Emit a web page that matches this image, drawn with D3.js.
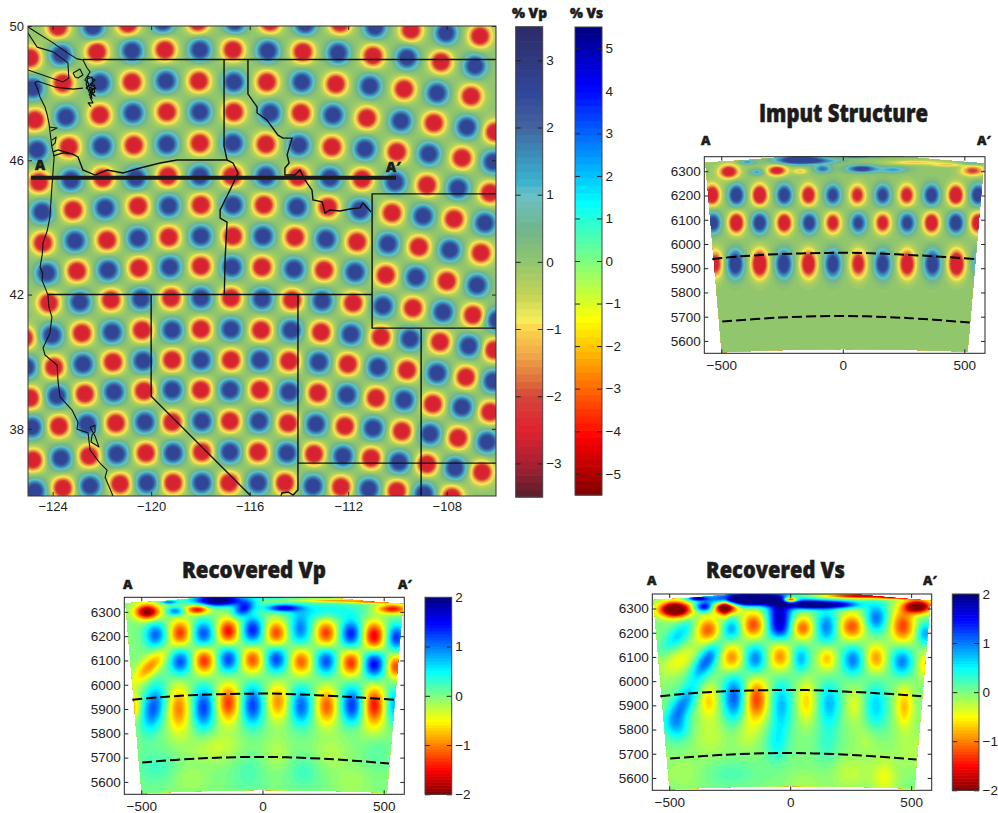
<!DOCTYPE html>
<html><head><meta charset="utf-8"><title>Checkerboard resolution test</title>
<script src="https://cdn.jsdelivr.net/npm/d3@7/dist/d3.min.js"></script>
<style>html,body{margin:0;padding:0;background:#fff}svg{display:block}</style></head><body>
<script>
// ---------- tick labels ----------
const mapLonTicks=[-124,-120,-116,-112,-108];
const mapLatTicks=[50,46,42,38];
const sectionXTicks=[-500,0,500];
const sectionYTicks=[6300,6200,6100,6000,5900,5800,5700,5600];
const vpBarTicks=[3,2,1,0,-1,-2,-3];
const vsBarTicks=[5,4,3,2,1,0,-1,-2,-3,-4,-5];
const recoveredBarTicks=[2,1,0,-1,-2];
// ---------- colour maps ----------
const mutedValues=[3.5,3,2.5,2,1.6,1.2,1,0.5,0,-0.5,-0.85,-1,-1.4,-1.8,-2,-2.5,-3,-3.5];
const mutedColors=["#2e2a6a","#2f3a80","#31479a","#44659f","#3b8fb8","#3ab2cf","#6cc0c6","#6fb58c","#92c66d","#c5d455","#f6ee58","#fbd34d","#f0a546","#dc6a3b","#d3453a","#e1222f","#a82033","#56202a"];
const jetValues=[1,0.75,0.71,0.25,0,-0.25,-0.75,-1];
const jetColors=["#00007f","#0000ff","#0010ff","#00ffff","#7fff7f","#ffff00","#ff0000","#7f0000"];
// ---------- map checkerboard: one row per parallel of anomalies ----------
const rowFirstSign=[-1,-1,1,-1,1,-1,1,-1,1,-1,-1,1,-1,1,-1,1];
const spotLon=[
[-123.78,-122.36,-120.94,-119.52,-118.10,-116.60,-115.17,-113.75,-112.33,-110.91,-109.45,-108.03,-106.65],
[-124.92,-123.66,-122.20,-120.78,-119.44,-118.02,-116.68,-115.26,-113.84,-112.41,-110.99,-109.61,-108.23,-106.85],
[-124.80,-123.58,-122.08,-120.78,-119.40,-118.06,-116.64,-115.30,-113.88,-112.50,-111.12,-109.73,-108.39,-107.01],
[-124.72,-123.46,-122.08,-120.74,-119.36,-118.02,-116.64,-115.17,-113.92,-112.62,-111.24,-109.86,-108.52,-107.18,-106.04],
[-124.63,-123.34,-122.00,-120.70,-119.36,-118.02,-116.68,-115.34,-114.00,-112.66,-111.32,-110.02,-108.72,-107.38,-106.12],
[-124.55,-123.25,-121.96,-120.62,-119.32,-118.02,-116.72,-115.34,-114.04,-112.74,-111.44,-110.10,-108.80,-107.54,-106.24],
[-124.43,-123.17,-121.87,-120.53,-119.28,-117.98,-116.68,-115.42,-114.08,-112.82,-111.52,-110.22,-108.96,-107.70,-106.45],
[-124.39,-123.09,-121.79,-120.53,-119.28,-117.98,-116.68,-115.46,-114.16,-112.90,-111.64,-110.38,-109.13,-107.87,-106.61],
[-124.23,-123.01,-121.75,-120.49,-119.24,-117.98,-116.72,-115.50,-114.20,-112.98,-111.72,-110.47,-109.25,-107.99,-106.77],
[-124.15,-122.89,-121.63,-120.41,-119.19,-117.98,-116.76,-115.50,-114.28,-113.06,-111.80,-110.59,-109.37,-108.15,-106.93,-105.96],
[-125.16,-124.03,-122.81,-121.59,-120.37,-119.15,-117.98,-116.76,-115.54,-114.32,-113.10,-111.89,-110.67,-109.49,-108.27,-107.10,-106.08],
[-125.08,-123.94,-122.77,-121.55,-120.33,-119.15,-117.98,-116.76,-115.58,-114.40,-113.19,-112.01,-110.79,-109.61,-108.39,-107.22,-106.12],
[-124.92,-123.82,-122.69,-121.51,-120.29,-119.15,-117.98,-116.80,-115.58,-114.40,-113.23,-112.05,-110.87,-109.73,-108.56,-107.38,-106.24],
[-124.84,-123.74,-122.60,-121.43,-120.25,-119.15,-117.94,-116.80,-115.62,-114.44,-113.31,-112.13,-110.99,-109.82,-108.68,-107.54,-106.36],
[-124.80,-123.66,-122.52,-121.39,-120.21,-119.11,-117.94,-116.80,-115.66,-114.48,-113.39,-112.21,-111.07,-109.94,-108.80,-107.66,-106.57],
[-124.72,-123.58,-122.48,-121.26,-120.17,-119.11,-117.94,-116.84,-115.66,-114.57,-113.43,-112.29,-111.16,-110.02,-108.92,-107.79]];
const spotLat=[
[49.97,49.97,50.06,50.12,50.12,50.12,50.12,50.06,50.09,49.97,49.88,49.79,49.70],
[49.05,49.14,49.23,49.26,49.29,49.29,49.29,49.26,49.23,49.20,49.11,49.05,48.93,48.81],
[48.15,48.30,48.30,48.33,48.36,48.36,48.33,48.33,48.33,48.27,48.21,48.12,48.00,47.91],
[47.20,47.29,47.35,47.41,47.44,47.44,47.44,47.41,47.41,47.35,47.26,47.17,47.11,46.99,46.84],
[46.31,46.40,46.43,46.45,46.48,46.51,46.51,46.48,46.45,46.40,46.34,46.25,46.19,46.07,45.95],
[45.35,45.41,45.47,45.47,45.53,45.53,45.53,45.53,45.50,45.47,45.44,45.35,45.26,45.17,45.03],
[44.46,44.52,44.58,44.64,44.64,44.67,44.67,44.67,44.61,44.61,44.52,44.43,44.34,44.25,44.13],
[43.54,43.60,43.62,43.68,43.71,43.74,43.74,43.74,43.71,43.65,43.57,43.51,43.42,43.33,43.24],
[42.64,42.70,42.73,42.79,42.82,42.85,42.82,42.82,42.76,42.73,42.67,42.58,42.52,42.40,42.28],
[41.75,41.78,41.84,41.87,41.90,41.90,41.90,41.87,41.84,41.81,41.75,41.66,41.60,41.48,41.39,41.24],
[40.71,40.79,40.85,40.88,40.94,40.94,40.97,40.97,40.94,40.94,40.88,40.82,40.74,40.68,40.59,40.47,40.35],
[39.84,39.84,39.93,39.99,40.02,40.05,40.05,40.05,40.05,40.02,39.99,39.93,39.84,39.75,39.66,39.54,39.42],
[38.92,38.98,39.04,39.10,39.13,39.16,39.16,39.16,39.16,39.10,39.07,39.01,38.92,38.86,38.74,38.65,38.50],
[38.05,38.08,38.14,38.17,38.20,38.20,38.23,38.23,38.23,38.17,38.14,38.08,38.02,37.93,37.85,37.73,37.61],
[37.07,37.13,37.19,37.25,37.28,37.28,37.31,37.31,37.31,37.28,37.25,37.19,37.13,37.01,36.95,36.83,36.71],
[36.15,36.24,36.30,36.36,36.39,36.39,36.39,36.39,36.39,36.39,36.30,36.27,36.21,36.15,36.06,35.97]];
// ---------- map lines, lon/lat ----------
const coastLines=[
[[-124.63,48.36],[-124.72,48.30],[-124.60,48.10],[-124.51,47.88],[-124.31,47.59],[-124.22,47.35],[-124.15,47.11],[-124.03,46.40],[-123.94,46.10],[-124.03,45.20],[-124.11,44.31],[-124.22,43.90],[-124.39,43.54],[-124.42,43.20],[-124.51,42.82],[-124.40,42.62],[-124.43,42.43],[-124.19,41.99],[-124.15,41.63],[-124.03,41.33],[-124.11,40.85],[-124.39,40.41],[-124.31,40.20],[-123.82,39.90],[-123.78,39.40],[-123.70,38.95],[-123.21,38.56],[-122.97,38.20],[-123.01,37.99],[-122.56,37.88],[-122.48,37.37],[-122.08,36.98],[-121.79,36.77],[-121.87,36.56],[-121.55,36.00]],
[[-125.00,49.97],[-124.03,49.52],[-123.40,49.20],[-123.01,49.02],[-122.77,48.99]],
[[-125.00,49.79],[-124.63,49.37],[-123.98,49.23],[-123.38,48.90],[-123.34,48.45],[-123.58,48.33],[-125.00,48.69]],
[[-124.63,48.36],[-123.90,48.18],[-123.17,48.12],[-122.77,48.15]],
[[-122.77,48.99],[-122.60,48.75],[-122.48,48.63],[-122.69,48.39],[-122.52,48.27],[-122.64,48.15],[-122.36,48.03],[-122.48,47.88],[-122.36,47.71],[-122.56,47.71],[-122.44,47.60]],
[[-122.56,48.51],[-122.28,48.39],[-122.48,48.27],[-122.24,48.15],[-122.48,48.09],[-122.28,47.91],[-122.52,48.03],[-122.64,48.27],[-122.56,48.51]],
[[-122.60,48.42],[-122.40,48.48],[-122.36,48.30],[-122.56,48.20],[-122.34,48.12],[-122.52,47.96],[-122.40,47.84],[-122.60,48.42]],
[[-122.44,48.24],[-122.30,48.24],[-122.30,48.02],[-122.44,48.02],[-122.44,48.24]],
[[-123.17,48.60],[-122.89,48.72],[-122.77,48.54],[-122.97,48.45],[-123.09,48.48],[-123.17,48.60]],
[[-124.15,46.99],[-123.82,46.96],[-124.07,46.87]],
[[-124.03,46.60],[-123.86,46.69],[-123.90,46.51],[-124.03,46.43]],
[[-122.48,38.05],[-122.28,38.11],[-122.28,37.91],[-122.40,37.82],[-122.44,37.61],[-122.12,37.46],[-122.28,37.79],[-122.48,38.05]]];
const borderLines=[
[[-122.77,49],[-106,49]],
[[-123.98,46.25],[-123.78,46.31],[-123.21,46.19],[-122.97,46.10],[-122.77,45.71],[-122.28,45.56],[-121.79,45.71],[-121.14,45.62],[-120.45,45.77],[-119.64,45.92],[-118.95,46.01],[-116.92,46.01]],
[[-123.98,46.13],[-123.58,46.22],[-123.21,46.19]],
[[-117.04,49],[-117.04,46.42],[-116.92,46.01],[-116.68,45.92],[-116.47,45.62],[-116.80,45.11],[-117.20,44.52],[-117.20,44.28],[-116.92,44.16],[-117.00,43.03],[-117.03,42]],
[[-116.07,49],[-116.07,47.97],[-115.70,47.59],[-115.70,47.41],[-115.30,47.20],[-114.85,46.75],[-114.65,46.66],[-114.28,46.66],[-114.48,46.16],[-114.40,45.92],[-114.57,45.77],[-114.57,45.56],[-114.16,45.56],[-113.96,45.71],[-113.75,45.41],[-113.47,45.11],[-113.43,44.82],[-113.06,44.76],[-112.94,44.43],[-112.74,44.52],[-112.33,44.49],[-111.93,44.55],[-111.52,44.58],[-111.40,44.73],[-111.07,44.46]],
[[-106,45],[-111.03,45],[-111.03,41],[-106,41]],
[[-124.19,42],[-111.03,42]],
[[-120,42],[-120,38.97],[-115.95,36]],
[[-114.04,42],[-114.04,36.18],[-114.24,36.03],[-114.44,36.12],[-114.69,36.09],[-114.73,36]],
[[-114.04,36.98],[-106,36.98]],
[[-109.04,41],[-109.04,36]]];
const profileLon=[-124.88,-110.06];
const profileLat=[45.48,45.48];
// ---------- cross-section outline and discontinuities ----------
const outlineKm=[-565,-400,-250,-120,0,150,300,450,580,513,300,0,-300,-498];
const outlineDepth=[6335,6345,6358,6366,6371,6366,6356,6342,6332,5556,5563,5567,5562,5553];
const d410Km=[-537,-420,-270,-65,71,344,542];
const d410Depth=[5938,5949,5958,5963,5963,5951,5938];
const d660Km=[-496,-270,3,276,522];
const d660Depth=[5680,5696,5703,5694,5676];
// ---------- section anomalies: [km, radius, half-width km, half-height km, value, tilt] ----------
const inputBlobs=[
[-538,6202,21,28,-3.7],[-438,6202,21,28,3.7],[-342,6202,21,28,-3.9],[-241,6202,21,28,3.5],[-141,6202,21,28,-3.4],[-41,6202,21,28,3.1],[60,6202,21,28,-2.9],[164,6202,21,28,3.1],[263,6202,21,28,-3.1],[365,6202,21,28,3.5],[465,6202,21,28,-3.9],[557,6202,21,28,3.6],
[-534,6087,21,28,3.3],[-438,6087,21,28,-3.9],[-342,6087,21,28,3.6],[-241,6087,21,28,-3.7],[-138,6087,21,28,3.4],[-41,6087,21,28,-3.1],[64,6087,21,28,3.0],[164,6087,21,28,-3.1],[265,6087,21,28,3.2],[365,6087,21,28,-3.7],[465,6087,21,28,3.7],[557,6087,21,28,-3.7],
[-524,5918,20,37,-2.8],[-442,5918,22,37,3.7],[-342,5918,22,37,-4],[-243,5918,22,37,3.6],[-141,5918,22,37,-3.6],[-41,5918,22,37,3.4],[64,5918,22,37,-3.1],[164,5918,22,37,3.4],[265,5918,22,37,-3.6],[369,5918,22,37,3.6],[468,5918,22,37,-4],[557,5918,17,37,1.8],
[-469,6298,27,19,-3.2],[-353,6296,20,9,1.4],[-271,6303,28,15,-2.9],[-175,6300,20,8,-1.2],[-83,6310,24,11,2.0],[-175,6346,64,11,4.2],[-394,6338,22,6,1.5],[78,6310,42,10,2.9],[208,6306,40,9,1.4],[535,6302,32,15,-2.2],[300,6336,75,6,-1.2],[57,6366,60,6,4.0],[-60,6342,60,6,0.8],[430,6326,42,5,-1.2],[540,6336,32,6,1.3]];
const vpBlobs=[
[-475,6300,35,22,-2.1],[-359,6302,24,12,1.1],[-268,6310,32,14,-1.6],[-182,6347,72,16,2.3],[-79,6312,28,22,1.3,0.6],[85,6316,48,10,1.5],[250,6305,120,25,0.5],[300,6346,100,5,-1.1],[535,6312,44,14,-1.5],[-386,6340,24,5,1.1],[30,6366,70,5,1.8],[450,6340,60,4,-1],
[-441,6205,31,36,1.1],[-339,6213,31,38,-1.3],[-243,6210,31,38,1.2],[-141,6220,31,38,-1.5],[-41,6225,31,40,1.4],[57,6212,31,38,-1.25],[156,6230,32,45,1.0],[262,6212,31,38,-1.3],[365,6210,31,40,1.4],[460,6200,31,42,-1.6],[552,6195,27,38,1.3],
[-465,6075,32,48,-0.95,0.75],[-339,6095,31,38,1.2],[-240,6098,31,38,-1.35],[-141,6105,31,38,1.25],[-41,6103,31,38,-1.2],[57,6106,31,38,1.25],[160,6095,31,38,-1.15],[262,6097,31,38,1.2],[365,6090,31,38,-1.35],[460,6085,31,40,1.55],[549,6075,25,35,-1.25],
[-530,5910,20,40,-0.75],[-450,5905,33,65,1.15,0.15],[-345,5900,32,68,-1.0],[-243,5905,32,62,1.25],[-141,5925,32,55,-1.3],[-41,5915,32,58,1.25],[64,5930,30,52,-0.95],[160,5912,32,55,1.1],[265,5912,31,52,-1.15],[369,5915,32,55,1.3],[460,5915,31,55,-1.45],[542,5915,22,55,0.8],
[-190,5745,80,45,-0.3],[-440,5660,60,50,0.25],[-300,5610,50,40,-0.15],[-60,5640,50,70,0.2],[60,5720,40,50,-0.2],[170,5640,50,50,0.25],[280,5720,50,50,-0.2],[370,5600,50,40,-0.15],[470,5720,40,50,0.15],[430,5820,70,35,-0.15]];
const vsBlobs=[
[-475,6296,44,22,-2.9],[-354,6306,28,14,1.6],[-269,6306,36,19,-2.4],[-385,6342,28,6,1.6],[-166,6337,105,17,3.2],[-43,6285,36,40,1.6],[-43,6215,36,32,1.2],[0,6336,20,8,-2.8],[74,6316,60,13,2.1],[205,6316,60,11,1.6],[150,6225,33,48,1.0],[355,6262,33,42,1.05],[287,6352,100,7,-1.7],[527,6308,38,19,-2.5],[465,6228,35,50,-1.25],[558,6197,24,32,0.85],[440,6345,70,5,-1.3],
[-461,6190,34,45,0.65,0.7],[-340,6212,35,38,-1.15],[-241,6217,29,32,0.85],[-152,6232,35,38,-1.25],[-270,6300,14,30,-0.7],[50,6220,33,33,-1.15],[255,6225,37,38,-1.2],
[-455,6085,50,45,-0.45,0.7],[-347,6085,32,52,1.15,0.5],[-241,6095,33,40,-1.0],[-145,6092,31,42,1.0],[-42,6100,31,40,-0.95],[44,6093,24,38,0.8],[152,6093,26,35,-0.75],[259,6087,31,42,1.0],[355,6095,29,40,-0.9],[462,6082,31,42,1.0],[552,6066,20,38,-0.55],
[-447,5900,34,60,0.95,0.5],[-337,5920,28,45,-0.65],[-232,5930,33,70,1.15],[-139,5925,33,60,-1.25],[-36,5900,31,75,0.75],[67,5915,26,60,-0.65],[163,5910,31,60,0.75],[266,5900,26,50,-0.38],[355,5895,33,70,0.65],[472,5895,26,60,-0.75],
[-56,5745,32,55,0.45],[-461,5810,34,40,0.6],[-180,5800,40,60,-0.3],[-330,5780,50,70,-0.25],[155,5750,32,70,0.3],[390,5600,35,55,-0.42],[250,5620,60,50,-0.25],[-250,5620,80,40,0.2],[-440,5620,60,50,-0.15],[60,5580,50,30,-0.15],[500,5720,50,60,-0.2],[320,5760,40,50,-0.2]];
// ---------- build ----------
const F="'Liberation Sans',Arial,sans-serif", B="'Open Sans',sans-serif";
const levels=65;
const svg=d3.select("body").append("svg").attr("width",998).attr("height",813);
const mutedScale=d3.scaleLinear().domain(mutedValues).range(mutedColors).clamp(true);
const jetScale=d3.scaleLinear().domain(jetValues).range(jetColors).clamp(true);
const jetFor=m=>(v=>jetScale(v/m));
let clipId=0;
function drawField(parent,box,maxVal,color,cell,clampTo,value){
  const pad=3, nx=Math.ceil((box.w+2*pad)/cell), ny=Math.ceil((box.h+2*pad)/cell);
  const vals=new Float64Array(nx*ny);
  value(vals,nx,ny,(i)=>box.x-pad+(i+0.5)*cell,(j)=>box.y-pad+(j+0.5)*cell);
  const step=2*maxVal/levels, thr=d3.range(levels).map(i=>-maxVal+i*step);
  for(let i=0;i<vals.length;i++) vals[i]=Math.max(-clampTo,Math.min(clampTo,vals[i]));
  const cs=d3.contours().size([nx,ny]).thresholds(thr)(vals);
  const path=d3.geoPath();
  const g=parent.append("g").attr("transform",`translate(${box.x-pad},${box.y-pad}) scale(${cell})`);
  g.append("rect").attr("width",nx).attr("height",ny).attr("fill",color(-clampTo));
  g.selectAll("path").data(cs).join("path").attr("d",path).attr("fill",d=>color(d.value+step/2));
}
function styleAxis(g,size){g.attr("font-family",F).attr("font-size",size).style("color","#222");g.select(".domain").remove();return g;}
function drawBar(x,y,w,h,maxVal,color,ticks,size){
  const s=d3.scaleLinear().domain([-maxVal,maxVal]).range([y+h,y]);
  const step=2*maxVal/levels;
  svg.append("g").selectAll("rect").data(d3.range(levels).map(i=>-maxVal+i*step)).join("rect")
    .attr("x",x).attr("width",w).attr("y",d=>s(d+step)).attr("height",d=>s(d)-s(d+step)+0.6).attr("fill",d=>color(d+step/2));
  styleAxis(svg.append("g").attr("transform",`translate(${x+w},0)`).call(d3.axisRight(s).tickValues(ticks).tickSize(-5).tickSizeOuter(0).tickPadding(3.5).tickFormat(d3.format("d"))),size);
  styleAxis(svg.append("g").attr("transform",`translate(${x},0)`).call(d3.axisLeft(s).tickValues(ticks).tickSize(-5).tickSizeOuter(0).tickFormat("")),size);
  svg.append("rect").attr("x",x).attr("y",y).attr("width",w).attr("height",h).attr("fill","none").attr("stroke","#444").attr("stroke-width",1);
}
function label(t,x,y,size,tl){
  const e=svg.append("text").attr("x",x).attr("y",y).attr("font-family",B).attr("font-weight",800).attr("font-size",size).attr("fill","#1c1c1c").attr("stroke","#1c1c1c").attr("stroke-width",0.5).text(t);
  if(tl) e.attr("textLength",tl).attr("lengthAdjust","spacingAndGlyphs");
}
// ---------- map ----------
const mapBox={x:28,y:26,w:468,h:470};
const lonS=d3.scaleLinear().domain([-125,-106]).range([mapBox.x,mapBox.x+mapBox.w]);
const latS=d3.scaleLinear().domain([36,50]).range([mapBox.y+mapBox.h,mapBox.y]);
const mapClip="c"+(clipId++);
svg.append("clipPath").attr("id",mapClip).append("rect").attr("x",mapBox.x).attr("y",mapBox.y).attr("width",mapBox.w).attr("height",mapBox.h);
const mapG=svg.append("g").attr("clip-path",`url(#${mapClip})`);
const spots=[];
spotLon.forEach((row,r)=>row.forEach((lon,c)=>spots.push({x:lonS(lon),y:latS(spotLat[r][c]),s:rowFirstSign[r]*(c%2?-1:1)})));
drawField(mapG,mapBox,3.5,mutedScale,1.5,2.55,(vals,nx,ny,px,py)=>{
  const sg2=2*7.1*7.1, R=28;
  spots.forEach(p=>{
    const i0=Math.max(0,Math.floor((p.x-R-px(0))/1.5)),i1=Math.min(nx-1,Math.ceil((p.x+R-px(0))/1.5));
    const j0=Math.max(0,Math.floor((p.y-R-py(0))/1.5)),j1=Math.min(ny-1,Math.ceil((p.y+R-py(0))/1.5));
    for(let j=j0;j<=j1;j++)for(let i=i0;i<=i1;i++){const dx=px(i)-p.x,dy=py(j)-p.y;vals[j*nx+i]+=3.7*p.s*Math.exp(-(dx*dx+dy*dy)/sg2);}
  });
});
const lineGen=d3.line().x(d=>lonS(d[0])).y(d=>latS(d[1]));
mapG.append("g").selectAll("path").data(coastLines).join("path").attr("d",lineGen).attr("fill","none").attr("stroke","#111").attr("stroke-width",1.1).attr("stroke-linejoin","round");
mapG.append("g").selectAll("path").data(borderLines).join("path").attr("d",lineGen).attr("fill","none").attr("stroke","#111").attr("stroke-width",1.4);
mapG.append("path").datum(profileLon.map((l,i)=>[l,profileLat[i]])).attr("d",lineGen).attr("stroke","#1a1a1a").attr("stroke-width",4).attr("fill","none");
styleAxis(svg.append("g").attr("transform",`translate(${mapBox.x},0)`).call(d3.axisLeft(latS).tickValues(mapLatTicks).tickSize(-4).tickSizeOuter(0).tickPadding(4).tickFormat(d3.format("d"))),13);
styleAxis(svg.append("g").attr("transform",`translate(${mapBox.x+mapBox.w},0)`).call(d3.axisRight(latS).tickValues(mapLatTicks).tickSize(-4).tickSizeOuter(0).tickFormat("")),13);
styleAxis(svg.append("g").attr("transform",`translate(0,${mapBox.y+mapBox.h})`).call(d3.axisBottom(lonS).tickValues(mapLonTicks).tickSize(-4).tickSizeOuter(0).tickPadding(6).tickFormat(d3.format("d"))),13);
styleAxis(svg.append("g").attr("transform",`translate(0,${mapBox.y})`).call(d3.axisTop(lonS).tickValues(mapLonTicks).tickSize(-4).tickSizeOuter(0).tickFormat("")),13);
svg.append("rect").attr("x",mapBox.x).attr("y",mapBox.y).attr("width",mapBox.w).attr("height",mapBox.h).attr("fill","none").attr("stroke","#333").attr("stroke-width",1);
label("A",35,170,14);
label("A′",386,172,14);
// ---------- sections ----------
function drawSection(box,maxVal,clampTo,color,blobs){
  const x=d3.scaleLinear().domain([-570,585]).range([box.x,box.x+box.w]);
  const y=d3.scaleLinear().domain([5549,6360]).range([box.y+box.h,box.y]);
  const id="c"+(clipId++);
  const outline=d3.line().x((d,i)=>x(outlineKm[i])).y((d,i)=>y(outlineDepth[i]));
  svg.append("clipPath").attr("id",id).append("path").attr("d",outline(outlineKm)+"Z");
  const frameId="c"+(clipId++);
  svg.append("clipPath").attr("id",frameId).append("rect").attr("x",box.x).attr("y",box.y).attr("width",box.w).attr("height",box.h);
  const outer=svg.append("g").attr("clip-path",`url(#${frameId})`);
  const g=outer.append("g").attr("clip-path",`url(#${id})`);
  drawField(g,box,maxVal,color,1,clampTo,(vals,nx,ny,px,py)=>{
    for(let j=0;j<ny;j++){const d=y.invert(py(j));for(let i=0;i<nx;i++){const k=x.invert(px(i));let v=0;
      for(const b of blobs){const dd=d-b[1];const dx=k-b[0]-(b[5]||0)*dd;const e=(dx*dx)/(2*b[2]*b[2])+(dd*dd)/(2*b[3]*b[3]);if(e<12)v+=b[4]*Math.exp(-e);}
      vals[j*nx+i]=v;}}
  });
  const dash=d3.line().x(d=>x(d[0])).y(d=>y(d[1])).curve(d3.curveCatmullRom);
  [[d410Km,d410Depth],[d660Km,d660Depth]].forEach(([ks,ds])=>{
    outer.append("path").attr("d",dash(ks.map((k,i)=>[k,ds[i]]))).attr("fill","none").attr("stroke","#000").attr("stroke-width",2).attr("stroke-dasharray","10 4");
  });
  styleAxis(svg.append("g").attr("transform",`translate(${box.x},0)`).call(d3.axisLeft(y).tickValues(sectionYTicks).tickSize(-4).tickSizeOuter(0).tickPadding(3.5).tickFormat(d3.format("d"))),13.5);
  styleAxis(svg.append("g").attr("transform",`translate(${box.x+box.w},0)`).call(d3.axisRight(y).tickValues(sectionYTicks).tickSize(-4).tickSizeOuter(0).tickFormat("")),13.5);
  styleAxis(svg.append("g").attr("transform",`translate(0,${box.y+box.h})`).call(d3.axisBottom(x).tickValues(sectionXTicks).tickSize(-4).tickSizeOuter(0).tickPadding(7).tickFormat(d3.format("d"))),13.5);
  styleAxis(svg.append("g").attr("transform",`translate(0,${box.y})`).call(d3.axisTop(x).tickValues(sectionXTicks).tickSize(-4).tickSizeOuter(0).tickFormat("")),13.5);
  svg.append("rect").attr("x",box.x).attr("y",box.y).attr("width",box.w).attr("height",box.h).attr("fill","none").attr("stroke","#222").attr("stroke-width",1);
}
drawSection({x:704.3,y:156.7,w:280.7,h:196.6},3.5,2.6,mutedScale,inputBlobs);
drawSection({x:124.3,y:597.3,w:280,h:197},2,2,jetFor(2),vpBlobs);
drawSection({x:652.3,y:594,w:279.4,h:196.3},2,2,jetFor(2),vsBlobs);
// ---------- colour bars ----------
drawBar(515.7,26.7,27,470.3,3.5,mutedScale,vpBarTicks,13.5);
drawBar(575,27,27,468,5.5,jetFor(5.5),vsBarTicks,13.5);
drawBar(425,597.3,26.7,197,2,jetFor(2),recoveredBarTicks,13.5);
drawBar(952.3,594,26.7,196.3,2,jetFor(2),recoveredBarTicks,13.5);
// ---------- titles ----------
label("% Vp",512,18,14,35);
label("% Vs",570,18,14,33);
label("Imput Structure",759,122,25,169);
label("Recovered Vp",182,578,22,144);
label("Recovered Vs",706,578,22,139);
label("A",701,145,13);label("A′",977,145,13);
label("A",123,589,13);label("A′",398,589,13);
label("A",647,585,13);label("A′",923,585,13);
</script></body></html>
